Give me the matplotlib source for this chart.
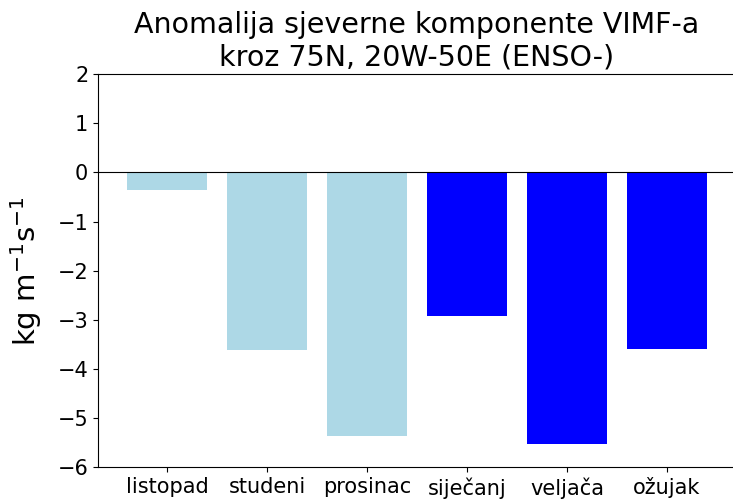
import matplotlib
matplotlib.use("Agg")
import matplotlib.pyplot as plt

months = ["listopad", "studeni", "prosinac", "siječanj", "veljača", "ožujak"]
values = [-0.36, -3.62, -5.35, -2.93, -5.53, -3.59]
colors = ["lightblue", "lightblue", "lightblue", "blue", "blue", "blue"]

fig = plt.figure(figsize=(7.33, 5.01), dpi=100)
ax = fig.add_axes([0.1337, 0.0669, 0.8704, 0.7854])
ax.bar(months, values, color=colors, width=0.8)
ax.axhline(0, color="black", linewidth=0.8)
ax.set_ylim(-6, 2)
ax.set_yticks(range(-6, 3))
ax.spines["right"].set_visible(False)
ax.tick_params(labelsize=15)
ax.set_ylabel(r"kg m$^{-1}$s$^{-1}$", fontsize=21, labelpad=10)
ax.set_title("Anomalija sjeverne komponente VIMF-a\nkroz 75N, 20W-50E (ENSO-)", fontsize=20.5)
fig.savefig("out.png", dpi=100)
